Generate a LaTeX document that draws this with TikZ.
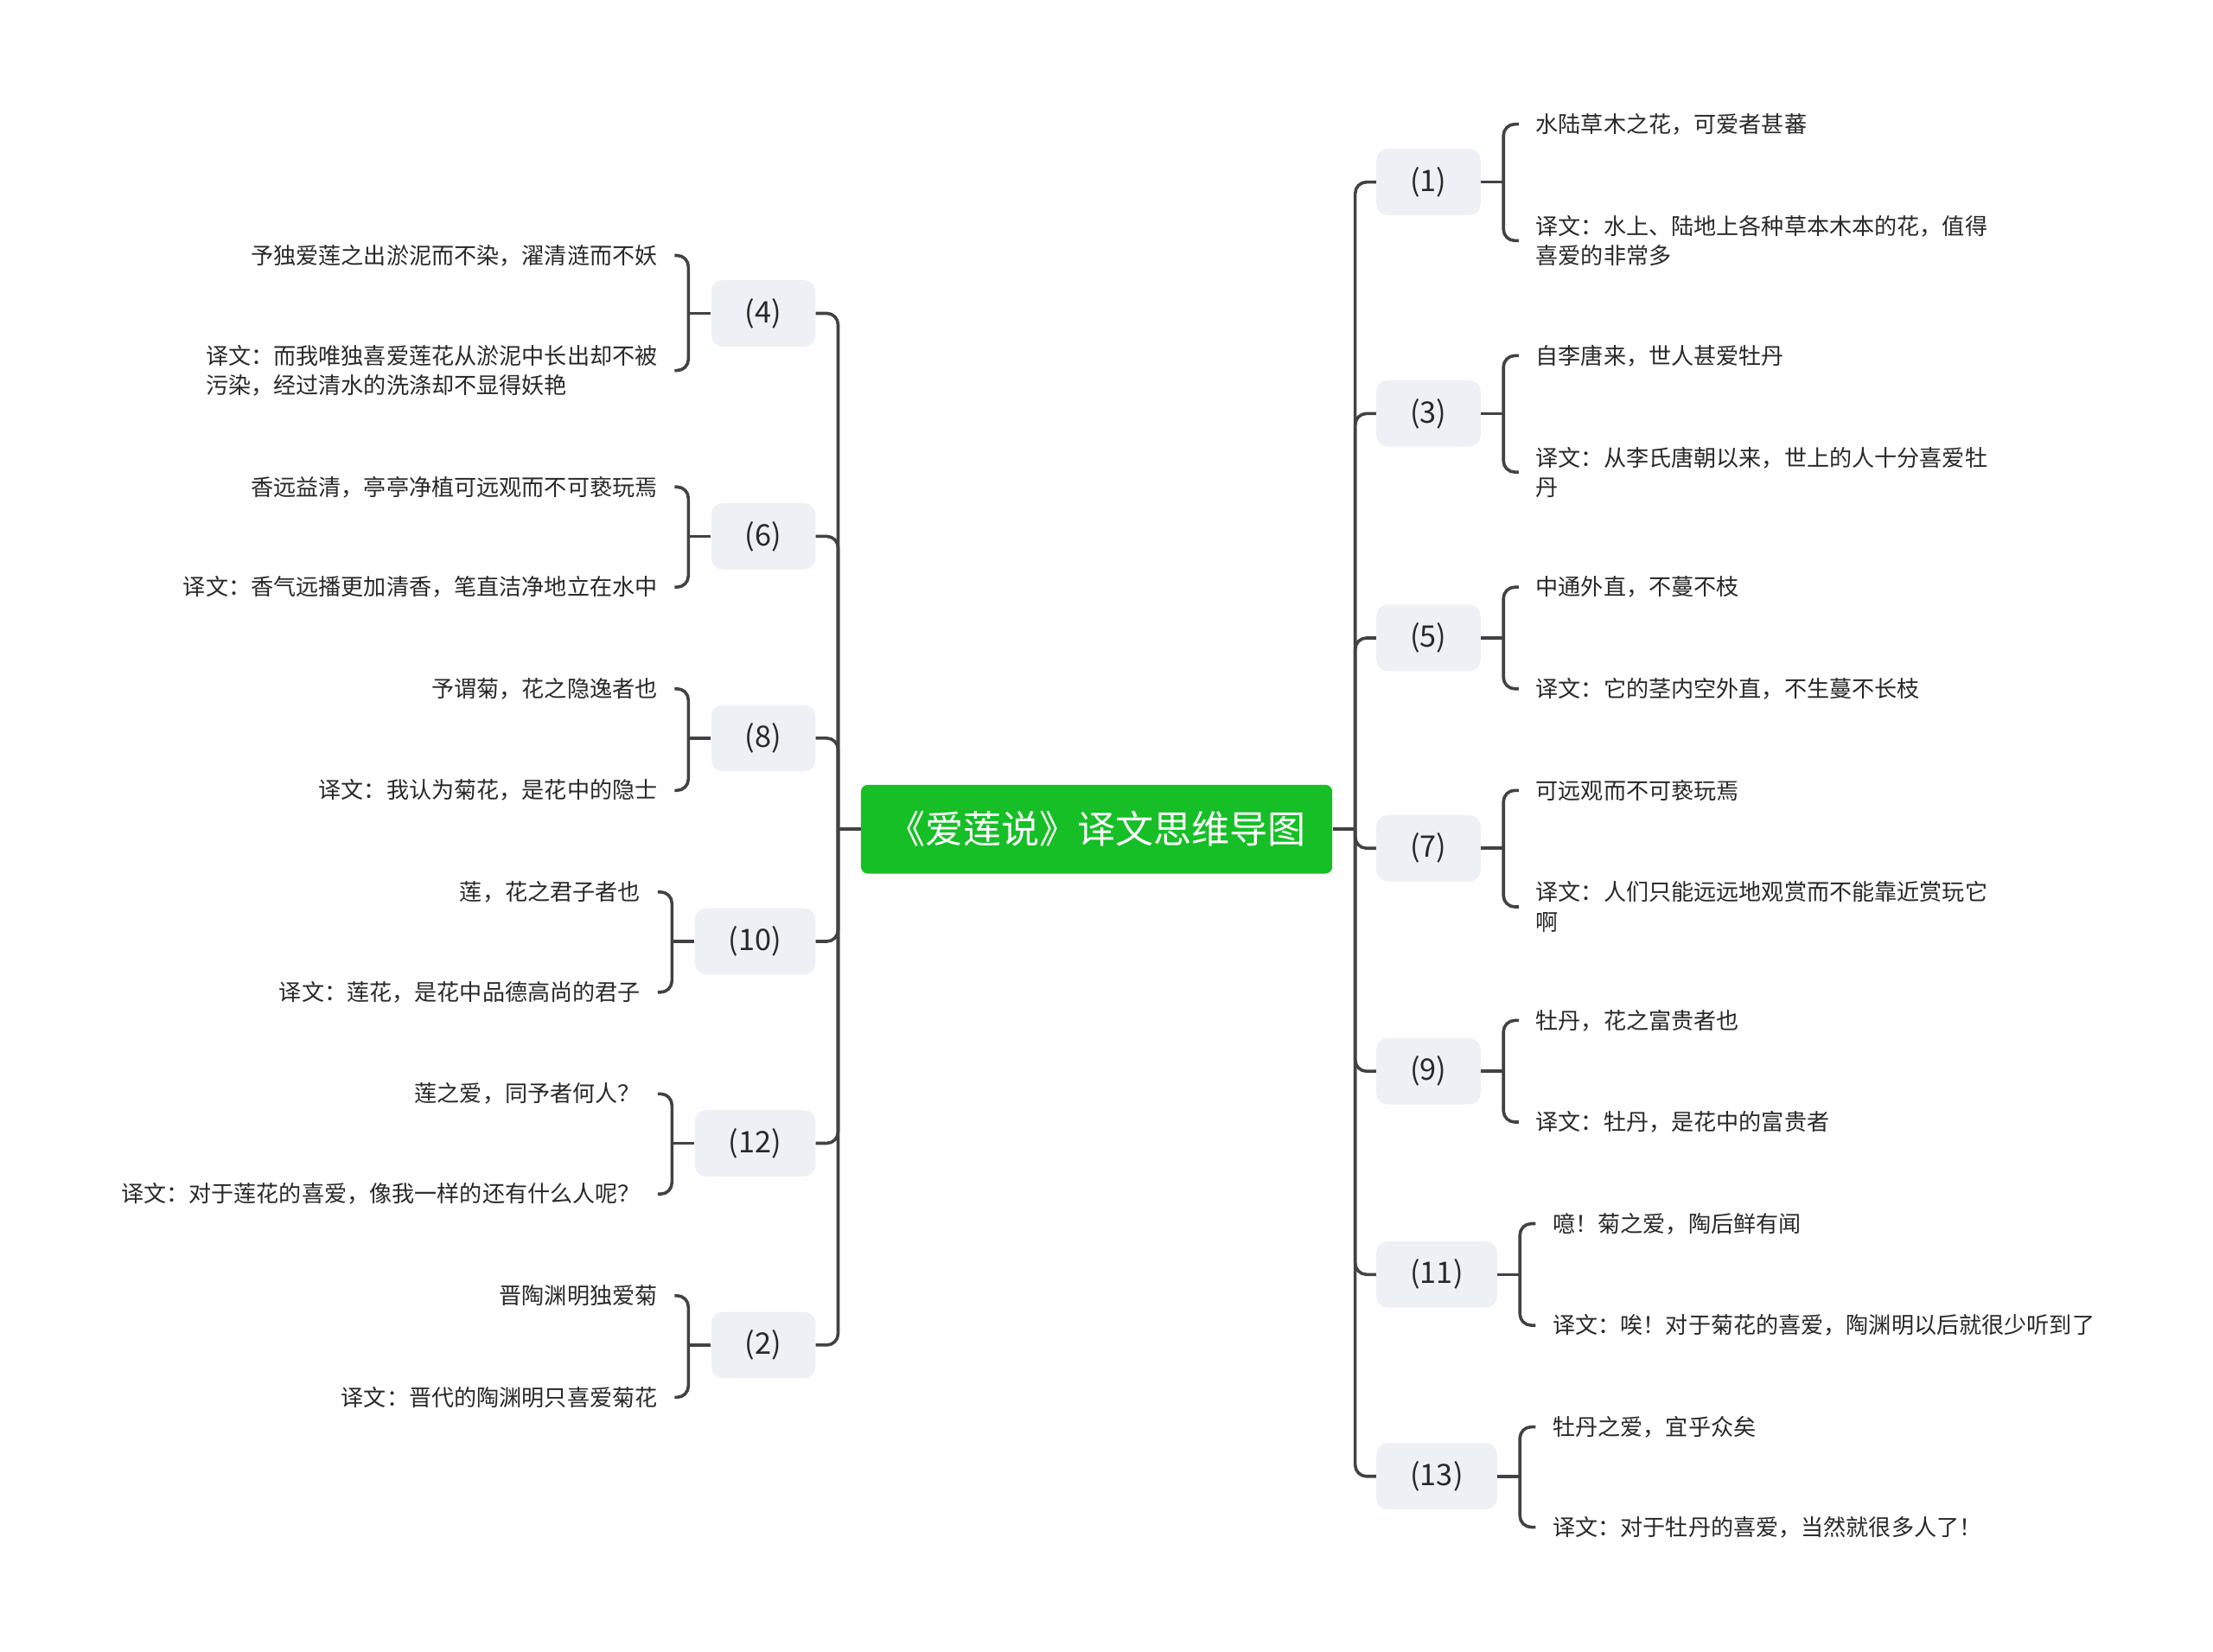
\documentclass[tikz,border=0pt]{standalone}
\usepackage{fontspec}
\setmainfont{Noto Sans CJK SC}
\definecolor{lianGreen}{RGB}{22,191,38}
\definecolor{lianBox}{RGB}{237,240,244}
\definecolor{lianLine}{RGB}{66,66,66}
\definecolor{lianText}{RGB}{40,40,40}

\begin{document}
\begin{tikzpicture}[
  x=1pt, y=-1pt,
  root/.style={
    fill=lianGreen,
    rounded corners=5pt,
    minimum width=334pt,
    minimum height=63pt,
    text=white,
    font=\fontsize{27}{32}\selectfont
  },
  topic/.style={
    fill=lianBox,
    rounded corners=8pt,
    minimum height=47pt,
    inner xsep=24pt,
    text=lianText,
    font=\fontsize{21}{25}\selectfont
  },
  leaf/.style={inner xsep=12pt, inner ysep=2pt, align=left, text=lianText, font=\fontsize{16}{21}\selectfont},
  link/.style={draw=lianLine, line width=2.2pt, rounded corners=8pt}
]
  \useasboundingbox (0,0) rectangle (1568,1170);
  \node[root] (root) at (777,587.5) {《爱莲说》译文思维导图};

  % right side
  \node[topic,anchor=west] (n1) at (975,129) {(1)};
  \node[topic,anchor=west] (n3) at (975,293) {(3)};
  \node[topic,anchor=west] (n5) at (975,452) {(5)};
  \node[topic,anchor=west] (n7) at (975,601) {(7)};
  \node[topic,anchor=west] (n9) at (975,759) {(9)};
  \node[topic,anchor=west] (n11) at (975,903) {(11)};
  \node[topic,anchor=west] (n13) at (975,1046) {(13)};

  \node[leaf,anchor=west] (a1) at (1076,88) {水陆草木之花，可爱者甚蕃};
  \node[leaf,anchor=west] (b1) at (1076,170.5) {译文：水上、陆地上各种草本木本的花，值得\\喜爱的非常多};
  \node[leaf,anchor=west] (a3) at (1076,252) {自李唐来，世人甚爱牡丹};
  \node[leaf,anchor=west] (b3) at (1076,334.5) {译文：从李氏唐朝以来，世上的人十分喜爱牡\\丹};
  \node[leaf,anchor=west] (a5) at (1076,416) {中通外直，不蔓不枝};
  \node[leaf,anchor=west] (b5) at (1076,488) {译文：它的茎内空外直，不生蔓不长枝};
  \node[leaf,anchor=west] (a7) at (1076,560) {可远观而不可亵玩焉};
  \node[leaf,anchor=west] (b7) at (1076,642.5) {译文：人们只能远远地观赏而不能靠近赏玩它\\啊};
  \node[leaf,anchor=west] (a9) at (1076,723) {牡丹，花之富贵者也};
  \node[leaf,anchor=west] (b9) at (1076,795) {译文：牡丹，是花中的富贵者};
  \node[leaf,anchor=west] (a11) at (1088,867) {噫！菊之爱，陶后鲜有闻};
  \node[leaf,anchor=west] (b11) at (1088,939) {译文：唉！对于菊花的喜爱，陶渊明以后就很少听到了};
  \node[leaf,anchor=west] (a13) at (1088,1011) {牡丹之爱，宜乎众矣};
  \node[leaf,anchor=west] (b13) at (1088,1082) {译文：对于牡丹的喜爱，当然就很多人了！};

  % left side
  \node[topic,anchor=east] (n4) at (578,222) {(4)};
  \node[topic,anchor=east] (n6) at (578,380) {(6)};
  \node[topic,anchor=east] (n8) at (578,523) {(8)};
  \node[topic,anchor=east] (n10) at (578,667) {(10)};
  \node[topic,anchor=east] (n12) at (578,810) {(12)};
  \node[topic,anchor=east] (n2) at (578,953) {(2)};

  \node[leaf,anchor=east] (a4) at (478,181) {予独爱莲之出淤泥而不染，濯清涟而不妖};
  \node[leaf,anchor=east] (b4) at (478,262.5) {译文：而我唯独喜爱莲花从淤泥中长出却不被\\污染，经过清水的洗涤却不显得妖艳};
  \node[leaf,anchor=east] (a6) at (478,345) {香远益清，亭亭净植可远观而不可亵玩焉};
  \node[leaf,anchor=east] (b6) at (478,416) {译文：香气远播更加清香，笔直洁净地立在水中};
  \node[leaf,anchor=east] (a8) at (478,488) {予谓菊，花之隐逸者也};
  \node[leaf,anchor=east] (b8) at (478,560) {译文：我认为菊花，是花中的隐士};
  \node[leaf,anchor=east] (a10) at (466,632) {莲，花之君子者也};
  \node[leaf,anchor=east] (b10) at (466,703) {译文：莲花，是花中品德高尚的君子};
  \node[leaf,anchor=east] (a12) at (466,775) {莲之爱，同予者何人？};
  \node[leaf,anchor=east] (b12) at (466,846) {译文：对于莲花的喜爱，像我一样的还有什么人呢？};
  \node[leaf,anchor=east] (a2) at (478,918) {晋陶渊明独爱菊};
  \node[leaf,anchor=east] (b2) at (478,990) {译文：晋代的陶渊明只喜爱菊花};

  % trunk lines
  \draw[link] (root.east) -- ++(16,0) coordinate (rs);
  \draw[link] (rs) |- (n1.west);
  \draw[link] (rs) |- (n3.west);
  \draw[link] (rs) |- (n5.west);
  \draw[link] (rs) |- (n7.west);
  \draw[link] (rs) |- (n9.west);
  \draw[link] (rs) |- (n11.west);
  \draw[link] (rs) |- (n13.west);
  \draw[link] (root.west) -- ++(-16,0) coordinate (ls);
  \draw[link] (ls) |- (n4.east);
  \draw[link] (ls) |- (n6.east);
  \draw[link] (ls) |- (n8.east);
  \draw[link] (ls) |- (n10.east);
  \draw[link] (ls) |- (n12.east);
  \draw[link] (ls) |- (n2.east);

  % brackets
  \draw[link] (n1.east) -- ++(16,0) coordinate (k1); \draw[link] (a1.west) -| (k1) |- (b1.west);
  \draw[link] (n3.east) -- ++(16,0) coordinate (k3); \draw[link] (a3.west) -| (k3) |- (b3.west);
  \draw[link] (n5.east) -- ++(16,0) coordinate (k5); \draw[link] (a5.west) -| (k5) |- (b5.west);
  \draw[link] (n7.east) -- ++(16,0) coordinate (k7); \draw[link] (a7.west) -| (k7) |- (b7.west);
  \draw[link] (n9.east) -- ++(16,0) coordinate (k9); \draw[link] (a9.west) -| (k9) |- (b9.west);
  \draw[link] (n11.east) -- ++(16,0) coordinate (k11); \draw[link] (a11.west) -| (k11) |- (b11.west);
  \draw[link] (n13.east) -- ++(16,0) coordinate (k13); \draw[link] (a13.west) -| (k13) |- (b13.west);
  \draw[link] (n4.west) -- ++(-16,0) coordinate (k4); \draw[link] (a4.east) -| (k4) |- (b4.east);
  \draw[link] (n6.west) -- ++(-16,0) coordinate (k6); \draw[link] (a6.east) -| (k6) |- (b6.east);
  \draw[link] (n8.west) -- ++(-16,0) coordinate (k8); \draw[link] (a8.east) -| (k8) |- (b8.east);
  \draw[link] (n10.west) -- ++(-16,0) coordinate (k10); \draw[link] (a10.east) -| (k10) |- (b10.east);
  \draw[link] (n12.west) -- ++(-16,0) coordinate (k12); \draw[link] (a12.east) -| (k12) |- (b12.east);
  \draw[link] (n2.west) -- ++(-16,0) coordinate (k2); \draw[link] (a2.east) -| (k2) |- (b2.east);
\end{tikzpicture}
\end{document}
